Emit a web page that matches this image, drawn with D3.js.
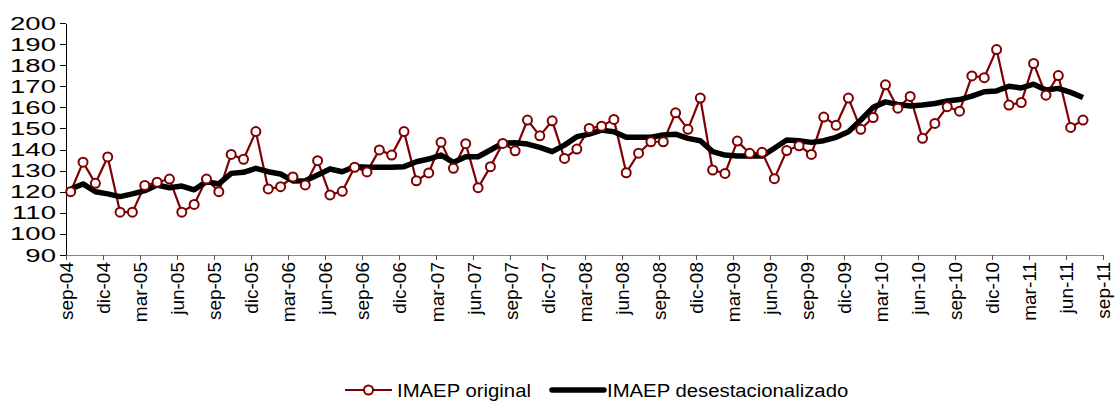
<!DOCTYPE html>
<html>
<head>
<meta charset="utf-8">
<script src="https://cdn.jsdelivr.net/npm/d3@7"></script>
<style>
  body { margin: 0; background: #fff; }
  svg { display: block; font-family: Arial, "Liberation Sans", sans-serif; }
</style>
</head>
<body>
<div id="chart"></div>
<script>
// DATA: monthly, sep-04 .. jul-11
var original = [
  120, 134, 124, 136.5, 110.3, 110.3, 123, 124.5, 126, 110.3, 114, 126,
  120, 137.7, 135.4, 148.5, 121.3, 122.4, 127, 123.2, 134.7, 118.5, 120.2, 131.6,
  129.4, 139.8, 137.4, 148.5, 125.2, 128.9, 143.4, 131.1, 142.8, 121.9, 131.9, 142.9,
  139.4, 154, 146.5, 153.6, 135.8, 140.2, 150, 151.1, 154.3, 129, 138.3, 143.7,
  143.7, 157.4, 149.6, 164.4, 130.3, 128.7, 144, 138.2, 138.7, 126.2, 139.5, 141.8,
  137.7, 155.4, 151.5, 164.4, 149.6, 155.2, 170.7, 159.6, 165.2, 145.3, 152.4, 160.3,
  158.2, 174.9, 174.1, 187.4, 161.1, 162.3, 180.8, 165.8, 175.1, 150.5, 154
];
var desest = [
  121.3, 123.7, 120, 119, 117.7, 119, 120.5, 123.2, 121.9, 122.7, 120.9, 124.8,
  123.7, 128.7, 129.2, 131.1, 129.5, 128.4, 125.1, 125.2, 127.9, 130.8, 129.5, 132,
  131.6, 131.6, 131.6, 131.9, 134.2, 135.5, 137.4, 133.9, 136.6, 136.6, 139.8, 143,
  143.2, 142.6, 141, 139, 142.1, 146.1, 147.3, 149.2, 148.4, 145.8, 145.8, 145.8,
  146.9, 147.3, 145.3, 144.2, 139, 137.4, 136.9, 136.9, 136.9, 140.6, 144.5, 144.2,
  143.4, 144.2, 145.8, 148.4, 154, 160, 162.6, 161.4, 160.6, 161.1, 161.8, 163,
  163.7, 165.3, 167.4, 167.8, 170, 169.2, 171, 168.2, 169, 167.1, 164.7
];
var tickLabels = [
  "sep-04", "dic-04", "mar-05", "jun-05", "sep-05", "dic-05", "mar-06", "jun-06",
  "sep-06", "dic-06", "mar-07", "jun-07", "sep-07", "dic-07", "mar-08", "jun-08",
  "sep-08", "dic-08", "mar-09", "jun-09", "sep-09", "dic-09", "mar-10", "jun-10",
  "sep-10", "dic-10", "mar-11", "jun-11", "sep-11"
];
var yTicks = [90, 100, 110, 120, 130, 140, 150, 160, 170, 180, 190, 200];
var seriesNames = ["IMAEP original", "IMAEP desestacionalizado"];

var W = 1118, H = 402;
var margin = {left: 66, right: 15, top: 23, bottom: 147};
var fontSize = "19px";

var svg = d3.select("#chart").append("svg")
  .attr("width", W)
  .attr("height", H);

// x is month index since sep-04, ticks every 3 months
var xScale = d3.scaleLinear()
  .domain([0, (tickLabels.length - 1) * 3])
  .range([margin.left, W - margin.right]);

var yScale = d3.scaleLinear()
  .domain([90, 200])
  .range([H - margin.bottom, margin.top]);

var offset = 0.38; // points sit a little after the month tick

// Y AXIS (labels drawn wide, as in the original)
var ySx = 1.45;
var yAxis = d3.axisLeft(yScale)
  .tickValues(yTicks)
  .tickSize(6)
  .tickSizeOuter(0);

var gy = svg.append("g")
  .attr("transform", "translate(" + margin.left + ",0)")
  .attr("shape-rendering", "crispEdges")
  .call(yAxis);
gy.select(".domain").attr("stroke", "#000");
gy.selectAll(".tick line").attr("stroke", "#000");
gy.selectAll(".tick text")
  .attr("x", -10 / ySx)
  .attr("transform", "scale(" + ySx + ",1)")
  .attr("fill", "#000")
  .style("font-size", fontSize)
  .style("font-family", "Arial, 'Liberation Sans', sans-serif");

// X AXIS
var xAxis = d3.axisBottom(xScale)
  .tickValues(tickLabels.map(function(d, i) { return i * 3; }))
  .tickFormat(function(d) { return tickLabels[d / 3]; })
  .tickSize(5)
  .tickSizeOuter(0);

var gx = svg.append("g")
  .attr("transform", "translate(0," + (H - margin.bottom) + ")")
  .attr("shape-rendering", "crispEdges")
  .call(xAxis);
gx.select(".domain").attr("stroke", "#868686").attr("stroke-width", 1.5);
gx.selectAll(".tick line").attr("stroke", "#555");
gx.selectAll(".tick text")
  .attr("fill", "#000")
  .style("font-size", fontSize)
  .style("font-family", "Arial, 'Liberation Sans', sans-serif")
  .attr("text-anchor", "end")
  .attr("transform", "rotate(-90)")
  .attr("x", -7)
  .attr("y", 0)
  .attr("dy", "0.35em");

// LINES
var line = d3.line()
  .x(function(d, i) { return xScale(i + offset); })
  .y(function(d) { return yScale(d); });

svg.append("path")
  .datum(original)
  .attr("d", line)
  .attr("fill", "none")
  .attr("stroke", "#7f0000")
  .attr("stroke-width", 2.2);

svg.append("path")
  .datum(desest)
  .attr("d", line)
  .attr("fill", "none")
  .attr("stroke", "#000")
  .attr("stroke-width", 5.5)
  .attr("stroke-linejoin", "round");

svg.selectAll("circle.orig")
  .data(original)
  .enter().append("circle")
  .attr("class", "orig")
  .attr("cx", function(d, i) { return xScale(i + offset); })
  .attr("cy", function(d) { return yScale(d); })
  .attr("r", 4.5)
  .attr("fill", "#fff")
  .attr("stroke", "#7f0000")
  .attr("stroke-width", 2);

// LEGEND
var legY = 390;
var lSx = 1.07;
var leg = svg.append("g").style("font-size", fontSize);
leg.append("line")
  .attr("x1", 345).attr("x2", 392)
  .attr("y1", legY).attr("y2", legY)
  .attr("stroke", "#7f0000").attr("stroke-width", 2.2);
leg.append("circle")
  .attr("cx", 368.5).attr("cy", legY).attr("r", 4.5)
  .attr("fill", "#fff").attr("stroke", "#7f0000").attr("stroke-width", 2);
leg.append("text")
  .attr("transform", "translate(397," + legY + ") scale(" + lSx + ",1)")
  .attr("dy", "0.35em")
  .text(seriesNames[0]);
leg.append("line")
  .attr("x1", 552).attr("x2", 604)
  .attr("y1", legY).attr("y2", legY)
  .attr("stroke", "#000").attr("stroke-width", 5.5)
  .attr("stroke-linecap", "round");
leg.append("text")
  .attr("transform", "translate(607," + legY + ") scale(" + lSx + ",1)")
  .attr("dy", "0.35em")
  .text(seriesNames[1]);
</script>
</body>
</html>
